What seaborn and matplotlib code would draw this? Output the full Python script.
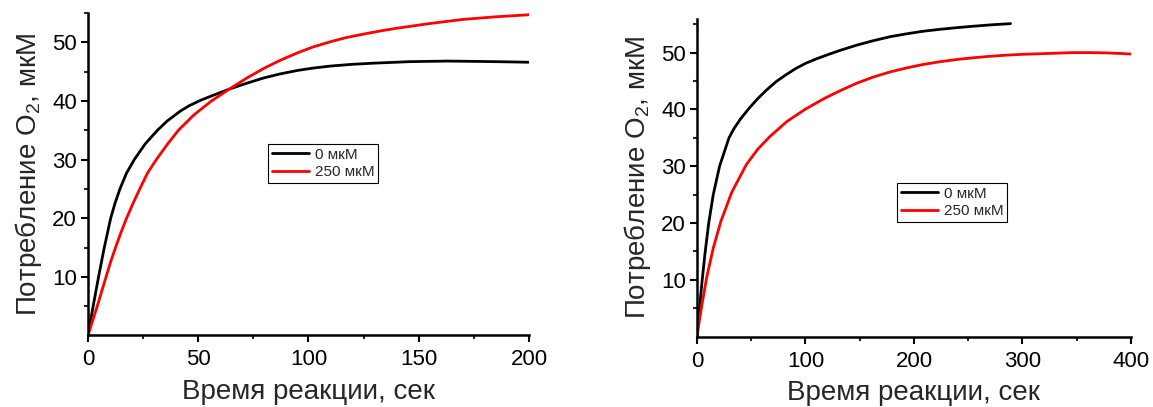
import matplotlib
matplotlib.use("Agg")
import matplotlib.pyplot as plt
from matplotlib.ticker import MultipleLocator, FixedLocator
import pandas as pd
import seaborn as sns

# Oxygen consumption curves, experiment A (0-200 s)
a_ctrl_t = [0, 2.4, 4.8, 7.4, 10.3, 12.3, 14.5, 17.5, 21, 26, 31.5, 36, 42, 46, 51, 57, 64, 71,
            79.5, 87, 95, 102, 110, 120, 130, 146, 163, 185, 200]
a_ctrl_o2 = [0, 5.1, 10, 15, 20, 22.6, 25, 27.7, 30, 32.7, 35, 36.6, 38.3, 39.2, 40.1, 41.0, 42.0, 42.9,
             43.9, 44.6, 45.2, 45.6, 45.95, 46.25, 46.45, 46.7, 46.8, 46.7, 46.6]
a_drug_t = [0, 2, 4.2, 6.2, 8.2, 10.3, 12.5, 15, 17.5, 20.5, 23.5, 27, 31, 36, 41, 48, 56, 60, 64, 72,
            80, 87, 95, 102, 110, 117, 125, 132, 140, 155, 170, 185, 200]
a_drug_o2 = [0, 2.4, 5, 7.5, 10, 12.6, 15, 17.6, 20, 22.6, 25, 27.7, 30, 32.6, 35, 37.6, 40, 41.0, 42.0, 43.9,
             45.6, 46.9, 48.2, 49.2, 50.1, 50.8, 51.4, 51.9, 52.4, 53.2, 53.9, 54.35, 54.7]

# Oxygen consumption curves, experiment B (0-400 s)
b_ctrl_t = [0, 2.3, 4.8, 7.6, 10.8, 15, 20.8, 29.5, 34, 40, 48, 56, 64, 73, 82, 91, 100, 110, 120, 132,
            147, 162.5, 178, 193, 208, 224, 240, 255, 272, 289]
b_ctrl_o2 = [0, 5, 10, 15, 20, 25, 30, 35, 36.6, 38.3, 40.2, 41.9, 43.4, 44.9, 46.1, 47.2, 48.1, 48.9, 49.6, 50.4,
             51.3, 52.1, 52.8, 53.3, 53.75, 54.1, 54.4, 54.65, 54.9, 55.1]
b_drug_t = [0, 2, 4.5, 9, 15, 22, 32, 45.5, 56, 67, 83, 99.5, 118, 132, 147, 162.5, 178, 193, 208, 224,
            240, 255, 270, 285, 300, 316, 331, 347, 362, 377, 390, 400]
b_drug_o2 = [0, 2.6, 5.6, 10.5, 15.6, 20.3, 25.4, 30.3, 33, 35.2, 37.9, 40.0, 42.0, 43.3, 44.6, 45.7, 46.6, 47.3,
             47.9, 48.4, 48.8, 49.1, 49.35, 49.55, 49.7, 49.8, 49.9, 50.0, 50.0, 49.95, 49.85, 49.75]

labels = ["0 мкМ", "250 мкМ"]
colors = {"0 мкМ": "black", "250 мкМ": "red"}

x_label = "Время реакции, сек"
y_label = "Потребление O$_\\mathregular{2}$, мкМ"


def frame(t0, y0, t1, y1):
    return pd.concat([
        pd.DataFrame({"t": t0, "o2": y0, "conc": labels[0]}),
        pd.DataFrame({"t": t1, "o2": y1, "conc": labels[1]}),
    ], ignore_index=True)


df_a = frame(a_ctrl_t, a_ctrl_o2, a_drug_t, a_drug_o2)
df_b = frame(b_ctrl_t, b_ctrl_o2, b_drug_t, b_drug_o2)

sns.set_style("ticks")
plt.rcParams["font.family"] = ["Liberation Sans", "DejaVu Sans"]
plt.rcParams["axes.linewidth"] = 1.5

fig = plt.figure(figsize=(11.53, 4.07), dpi=100)
ax1 = fig.add_axes([0.0763, 0.1757, 0.3825, 0.7924])
ax2 = fig.add_axes([0.6045, 0.1727, 0.3764, 0.7818])

panels = [
    (ax1, df_a, 200, 55, 50, 25, (0.2327, 0.6462)),
    (ax2, df_b, 400, 56, 100, 50, (0.7783, 0.5504)),
]

for ax, df, xmax, ymax, xmaj, xmin_step, leg_pos in panels:
    sns.lineplot(data=df, x="t", y="o2", hue="conc", palette=colors,
                 estimator=None, sort=False, linewidth=2.0, ax=ax)
    ax.set_xlim(0, xmax)
    ax.set_ylim(0, ymax)
    ax.xaxis.set_major_locator(MultipleLocator(xmaj))
    ax.xaxis.set_minor_locator(MultipleLocator(xmin_step))
    ax.yaxis.set_major_locator(FixedLocator([10, 20, 30, 40, 50]))
    ax.yaxis.set_minor_locator(FixedLocator([5, 15, 25, 35, 45, 55]))
    ax.tick_params(which="major", direction="out", length=5, width=1.5,
                   labelsize=16, pad=3, colors="black")
    ax.tick_params(which="minor", direction="out", length=3, width=1.5)
    ax.tick_params(axis="x", which="major", pad=5)
    for side in ("top", "right"):
        ax.spines[side].set_visible(False)
    for side in ("left", "bottom"):
        ax.spines[side].set_color("black")
        ax.spines[side].set_linewidth(1.8)
    ax.set_xlabel(x_label, fontsize=20, labelpad=6)
    ax.set_ylabel(y_label, fontsize=20, labelpad=6)
    leg = ax.legend(loc="upper left", bbox_to_anchor=leg_pos,
                    bbox_transform=fig.transFigure, fontsize=11,
                    frameon=True, fancybox=False, edgecolor="black",
                    framealpha=1, handlelength=2.4, handletextpad=0.4,
                    labelspacing=0.2, borderpad=0.25, borderaxespad=0)
    leg.get_frame().set_linewidth(0.8)
    for line in leg.get_lines():
        line.set_linewidth(2.0)

fig.savefig("out.png", dpi=100)
